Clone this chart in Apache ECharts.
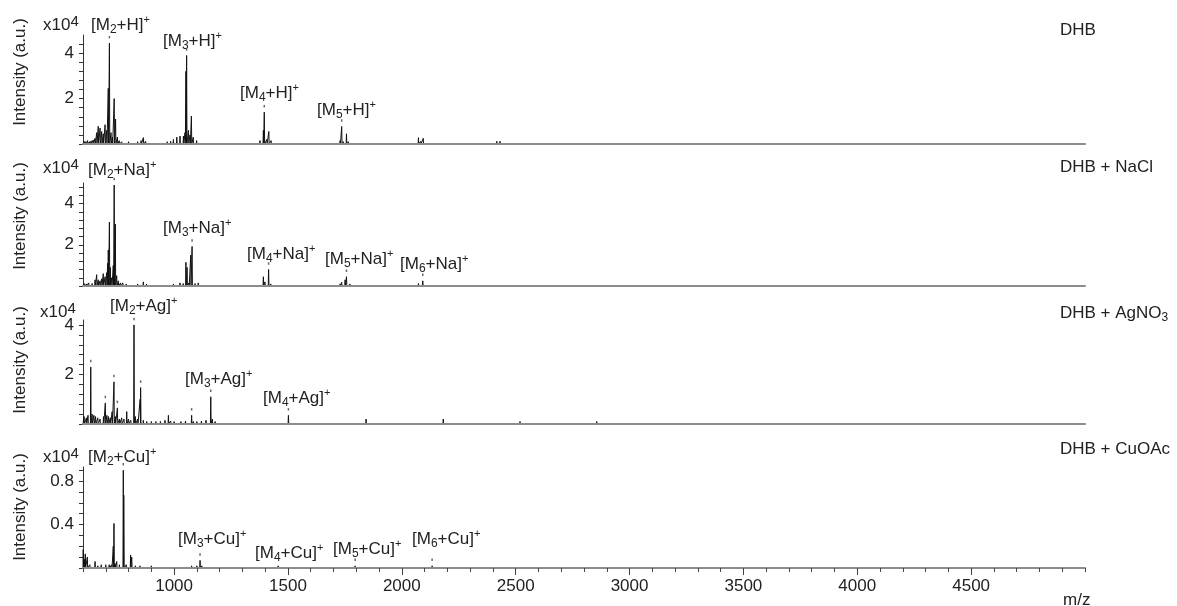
<!DOCTYPE html>
<html><head><meta charset="utf-8">
<script src="https://cdn.jsdelivr.net/npm/echarts@6/dist/echarts.min.js"></script>
<style>html,body{margin:0;padding:0;background:#fff}#c{width:1177px;height:606px}</style>
</head><body><div id="c"></div>
<script>
// ---------------- data ----------------
const mzMin = 600, mzMax = 5000;
const xTickLabels = [1000, 1500, 2000, 2500, 3000, 3500, 4000, 4500];
const panelNames = ['{n|DHB}', '{n|DHB + NaCl}', '{n|DHB + AgNO}{s|3}', '{n|DHB + CuOAc}'];
const yMaxes = [4.8, 5.0, 4.2, 0.93];           // in units of 10^4
const yLabelValues = [[2, 4], [2, 4], [2, 4], [0.4, 0.8]];

// [m/z, intensity (x10^4)]
const peaksDHB = [[605,0.12],[612,0.1],[620,0.15],[628,0.1],[636,0.14],[645,0.18],[653,0.25],[660,0.5],[667,0.78],[675,0.7],[682,0.55],[689,0.45],[697,0.85],[704,0.6],[711,2.45],[716,4.44],[723,0.5],[729,0.3],[737,2.0],[743,1.1],[751,0.3],[759,0.15],[770,0.1],[785,0.08],[800,0.1],[820,0.08],[840,0.1],[855,0.15],[865,0.28],[875,0.12],[890,0.08],[910,0.06],[930,0.08],[950,0.07],[970,0.1],[985,0.12],[997,0.2],[1012,0.3],[1026,0.35],[1041,0.35],[1048,0.5],[1052,3.2],[1055,3.9],[1063,0.6],[1070,0.4],[1076,1.23],[1084,0.3],[1099,0.15],[1120,0.06],[1150,0.05],[1180,0.04],[1220,0.05],[1260,0.04],[1300,0.05],[1340,0.05],[1377,0.15],[1392,0.6],[1396,1.4],[1407,0.2],[1416,0.55],[1426,0.15],[1460,0.04],[1520,0.04],[1580,0.03],[1640,0.04],[1700,0.05],[1729,0.15],[1736,0.77],[1743,0.1],[1757,0.45],[1765,0.1],[1800,0.03],[1900,0.03],[2021,0.05],[2050,0.07],[2073,0.28],[2083,0.12],[2094,0.25],[2116,0.07],[2136,0.04],[2417,0.12],[2431,0.12],[2446,0.05],[2753,0.07],[2775,0.07],[3112,0.04],[3456,0.04]];
const peaksNaCl = [[605,0.12],[615,0.1],[625,0.15],[640,0.12],[653,0.3],[660,0.55],[667,0.3],[675,0.25],[682,0.35],[689,0.6],[697,0.45],[704,0.65],[708,1.1],[711,1.75],[716,3.1],[720,0.9],[726,0.4],[733,1.0],[737,4.9],[742,3.0],[748,0.5],[755,0.25],[765,0.15],[775,0.15],[790,0.1],[810,0.08],[840,0.1],[865,0.2],[879,0.1],[900,0.06],[940,0.06],[970,0.07],[997,0.1],[1026,0.15],[1040,0.12],[1052,1.15],[1057,0.9],[1065,0.15],[1073,1.5],[1079,1.92],[1092,0.12],[1106,0.15],[1130,0.05],[1200,0.04],[1300,0.04],[1370,0.05],[1392,0.45],[1399,0.2],[1415,0.8],[1425,0.1],[1470,0.04],[1509,0.05],[1553,0.05],[1567,0.05],[1650,0.04],[1729,0.1],[1736,0.18],[1751,0.3],[1757,0.45],[1772,0.1],[1809,0.05],[2073,0.12],[2092,0.25],[2431,0.08],[2775,0.05]];
const peaksAg = [[605,0.3],[615,0.25],[622,0.35],[634,2.3],[640,0.4],[648,0.35],[655,0.3],[665,0.25],[675,0.2],[690,0.3],[698,0.85],[705,0.35],[712,0.3],[720,0.25],[728,0.5],[736,1.7],[742,0.3],[751,0.65],[760,0.2],[770,0.25],[780,0.2],[792,0.5],[800,0.2],[810,0.15],[824,4.0],[830,0.3],[840,0.2],[851,1.0],[853,1.47],[865,0.15],[880,0.1],[900,0.1],[920,0.1],[940,0.1],[960,0.15],[975,0.35],[985,0.12],[1000,0.1],[1030,0.1],[1050,0.12],[1077,0.35],[1085,0.1],[1100,0.1],[1120,0.12],[1140,0.15],[1161,1.1],[1168,0.2],[1180,0.1],[1220,0.06],[1280,0.07],[1320,0.06],[1380,0.07],[1420,0.06],[1460,0.07],[1502,0.35],[1510,0.06],[1560,0.05],[1650,0.05],[1750,0.04],[1843,0.2],[1900,0.04],[2000,0.03],[2100,0.04],[2182,0.2],[2250,0.05],[2330,0.04],[2400,0.05],[2519,0.1],[2600,0.04],[2700,0.05],[2780,0.04],[2856,0.1],[3167,0.03],[3365,0.03],[3538,0.03]];
const peaksCu = [[601,0.17],[606,0.08],[610,0.13],[619,0.1],[630,0.03],[653,0.06],[665,0.02],[680,0.03],[700,0.03],[715,0.03],[726,0.03],[733,0.2],[736,0.41],[741,0.04],[748,0.06],[760,0.03],[777,0.9],[779,0.67],[790,0.03],[809,0.12],[814,0.1],[830,0.02],[850,0.02],[900,0.02],[1000,0.015],[1077,0.02],[1100,0.02],[1114,0.07],[1122,0.02],[1457,0.02],[1795,0.02],[2133,0.02],[2700,0.01],[3100,0.01],[3500,0.012],[3900,0.01],[4300,0.012],[4700,0.01]];

// m/z of peaks carrying a small marker dot
const taggedDHB = [716, 1055, 1396, 1736];
const taggedNaCl = [737, 1079, 1415, 1757, 2092];
const taggedAg = [634, 698, 736, 751, 824, 853, 1077, 1161, 1502];
const taggedCu = [777, 1114, 1795, 2133];

// peak annotation labels
const ionLabels = [
  '{n|[M}{s|2}{n|+H]}{p|+}', '{n|[M}{s|3}{n|+H]}{p|+}', '{n|[M}{s|4}{n|+H]}{p|+}', '{n|[M}{s|5}{n|+H]}{p|+}',
  '{n|[M}{s|2}{n|+Na]}{p|+}', '{n|[M}{s|3}{n|+Na]}{p|+}', '{n|[M}{s|4}{n|+Na]}{p|+}', '{n|[M}{s|5}{n|+Na]}{p|+}', '{n|[M}{s|6}{n|+Na]}{p|+}',
  '{n|[M}{s|2}{n|+Ag]}{p|+}', '{n|[M}{s|3}{n|+Ag]}{p|+}', '{n|[M}{s|4}{n|+Ag]}{p|+}',
  '{n|[M}{s|2}{n|+Cu]}{p|+}', '{n|[M}{s|3}{n|+Cu]}{p|+}', '{n|[M}{s|4}{n|+Cu]}{p|+}', '{n|[M}{s|5}{n|+Cu]}{p|+}', '{n|[M}{s|6}{n|+Cu]}{p|+}'
];

// ---------------- layout ----------------
const FONT = '"Liberation Sans", Arial, sans-serif';
const TXT = '#222';
const grids = [
  {left: 83, width: 1002, top: 35, height: 109},
  {left: 83, width: 1002, top: 183, height: 103},
  {left: 83, width: 1002, top: 320, height: 104},
  {left: 83, width: 1002, top: 467, height: 101}
];
const ionPos = [[91,25],[163,41],[240,93],[317,110],
                [88,170],[163,228],[247,254],[325,259],[400,264],
                [110,306],[185,379],[263,398],
                [88,457],[178,539],[255,553],[333,549],[412,539]];
const x10Pos = [[43,25],[43,168],[40,312],[43,457]];
const namePos = [[1060,30],[1060,167],[1060,313],[1060,449]];
const intensityPos = [[20,72],[20,216],[20,360],[20,507]];

function sticks(peaks) {
  const out = [[mzMin, 0]];
  peaks.slice().sort((a, b) => a[0] - b[0]).forEach(p => {
    out.push([p[0] - 1.5, 0], [p[0], p[1]], [p[0] + 1.5, 0]);
  });
  out.push([mzMax, 0]);
  return out;
}
function tagged(peaks, list) {
  return peaks.filter(p => list.indexOf(p[0]) >= 0);
}

const rich = {
  n: {fontSize: 17, fontFamily: FONT, fill: TXT, color: TXT, lineHeight: 22},
  s: {fontSize: 12, fontFamily: FONT, fill: TXT, color: TXT, lineHeight: 12, verticalAlign: 'bottom'},
  p: {fontSize: 11, fontFamily: FONT, fill: TXT, color: TXT, lineHeight: 11, verticalAlign: 'top'},
  e: {fontSize: 15, fontFamily: FONT, fill: TXT, color: TXT, lineHeight: 14, verticalAlign: 'top'}
};

const allPeaks = [peaksDHB, peaksNaCl, peaksAg, peaksCu];
const allTags = [taggedDHB, taggedNaCl, taggedAg, taggedCu];

const xAxes = [], yAxes = [], series = [], graphics = [];
for (let i = 0; i < 4; i++) {
  xAxes.push({
    type: 'value', gridIndex: i, min: mzMin, max: mzMax, interval: 100, z: 5,
    axisLine: {show: true, onZero: false, lineStyle: {color: '#8c8c8c', width: 2}},
    axisTick: {show: i === 3, length: 4, lineStyle: {color: '#444', width: 1}},
    axisLabel: {show: false}, splitLine: {show: false}
  });
  const labs = yLabelValues[i];
  yAxes.push({
    type: 'value', gridIndex: i, min: 0, max: yMaxes[i], interval: i < 3 ? 0.4 : 0.1,
    axisLine: {show: true, lineStyle: {color: '#333', width: 1}},
    axisTick: {show: true, length: 4, lineStyle: {color: '#333', width: 1}},
    splitLine: {show: false},
    axisLabel: {
      show: true, margin: 9, fontSize: 17, fontFamily: FONT, color: TXT,
      showMaxLabel: false,
      formatter: v => labs.some(l => Math.abs(l - v) < 1e-6) ? String(Math.round(v * 10) / 10) : ''
    }
  });
  series.push({
    type: 'line', xAxisIndex: i, yAxisIndex: i, data: sticks(allPeaks[i]),
    showSymbol: false, symbol: 'none', sampling: 'none', animation: false,
    lineStyle: {color: '#111', width: 1}, silent: true, z: 2
  });
  series.push({
    type: 'scatter', xAxisIndex: i, yAxisIndex: i, data: tagged(allPeaks[i], allTags[i]),
    symbol: 'rect', symbolSize: [1.5, 2.5], symbolOffset: [0, -6], animation: false,
    itemStyle: {color: '#444'}, silent: true, z: 3
  });
  graphics.push({
    type: 'text', x: intensityPos[i][0], y: intensityPos[i][1], rotation: Math.PI / 2,
    style: {text: 'Intensity (a.u.)', font: '17px ' + FONT, fill: TXT,
            align: 'center', verticalAlign: 'middle', textAlign: 'center', textVerticalAlign: 'middle'}
  });
  graphics.push({
    type: 'text', x: x10Pos[i][0], y: x10Pos[i][1],
    style: {text: '{n|x10}{e|4}', rich: rich, align: 'left', verticalAlign: 'middle'}
  });
  graphics.push({
    type: 'text', x: namePos[i][0], y: namePos[i][1],
    style: {text: panelNames[i], rich: rich, align: 'left', verticalAlign: 'middle'}
  });
}
// major ticks + labels of the bottom m/z axis
xAxes.push({
  type: 'value', gridIndex: 3, min: mzMin, max: mzMax, position: 'bottom', offset: 0,
  axisLine: {show: false},
  axisTick: {show: true, length: 7, customValues: xTickLabels, lineStyle: {color: '#444', width: 1}},
  axisLabel: {show: true, customValues: xTickLabels, margin: 10, fontSize: 17, fontFamily: FONT, color: TXT,
              formatter: v => String(v)},
  splitLine: {show: false}
});
ionLabels.forEach((l, k) => {
  graphics.push({
    type: 'text', x: ionPos[k][0], y: ionPos[k][1],
    style: {text: l, rich: rich, align: 'left', verticalAlign: 'middle'}
  });
});
graphics.push({
  type: 'text', x: 1063, y: 600,
  style: {text: 'm/z', font: '17px ' + FONT, fill: TXT, align: 'left', verticalAlign: 'middle', textVerticalAlign: 'middle'}
});

const chart = echarts.init(document.getElementById('c'), null, {renderer: 'canvas'});
chart.setOption({
  animation: false,
  backgroundColor: '#fff',
  grid: grids,
  xAxis: xAxes,
  yAxis: yAxes,
  series: series,
  graphic: graphics
});
</script>
</body></html>
